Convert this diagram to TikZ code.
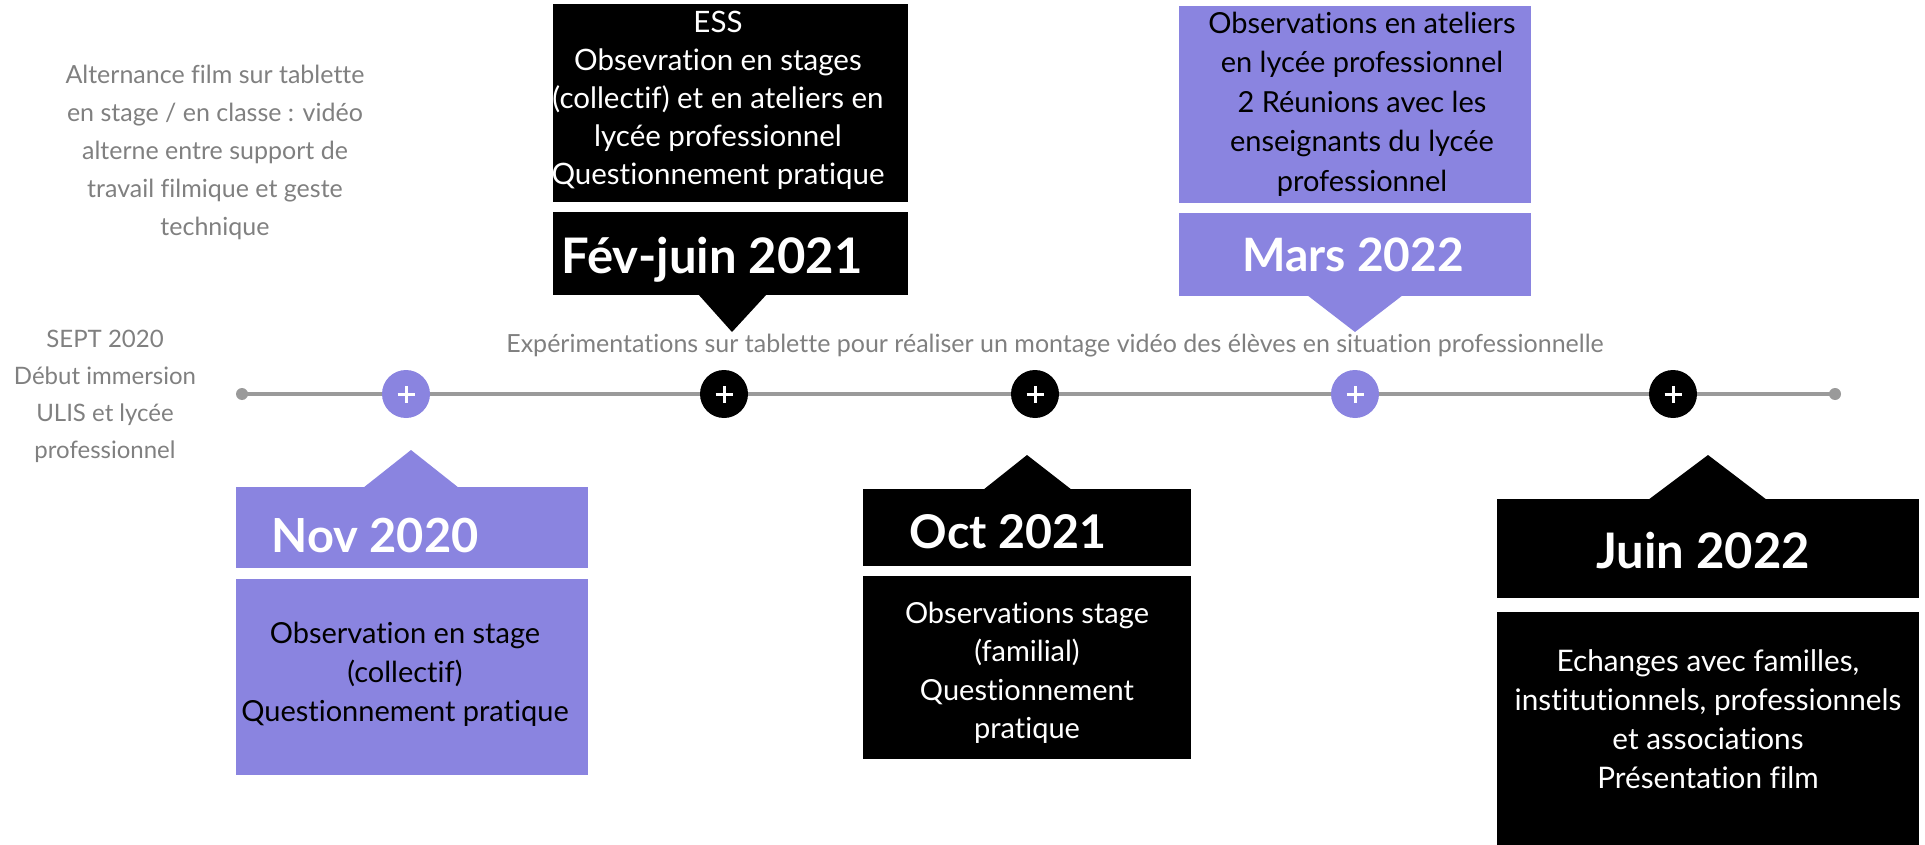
\documentclass[tikz,border=0pt]{standalone}
\usepackage{fontspec}
\setmainfont{Lato}[Ligatures={NoCommon}]
\definecolor{purp}{HTML}{8A84E0}
\definecolor{graytxt}{HTML}{808080}
\definecolor{lineg}{HTML}{9A9A9A}
\begin{document}
\begin{tikzpicture}[x=1pt,y=-1pt,
  boxp/.style={rectangle,inner sep=0pt,fill=purp},
  boxk/.style={rectangle,inner sep=0pt,fill=black},
  datetxt/.style={inner sep=0pt,anchor=base,text=white,font=\fontsize{47}{56}\selectfont\bfseries},
  bodytxt/.style={inner sep=0pt,align=center,font=\fontsize{29}{39}\selectfont},
  graynote/.style={inner sep=0pt,align=center,text=graytxt,font=\fontsize{25}{38}\selectfont},
  dotp/.style={circle,fill=purp,minimum size=48pt,inner sep=0pt},
  dotk/.style={circle,fill=black,minimum size=48pt,inner sep=0pt},
  plusmark/.style={white,line width=3pt},
  endpt/.style={circle,fill=lineg,minimum size=12pt,inner sep=0pt}
]
\useasboundingbox (0,0) rectangle (1925,845);

% timeline
\node[endpt] (tstart) at (242,394) {};
\node[endpt] (tend) at (1835,394) {};
\draw[lineg,line width=4pt] (tstart.center) -- (tend.center);

% circles
\foreach \n/\x/\s in {c1/406/dotp,c2/724/dotk,c3/1035/dotk,c4/1355/dotp,c5/1673/dotk}{
  \node[\s] (\n) at (\x,394) {};
  \draw[plusmark] ([xshift=-8.5pt]\n.center) -- ([xshift=8.5pt]\n.center);
  \draw[plusmark] ([yshift=-8.5pt]\n.center) -- ([yshift=8.5pt]\n.center);
}

% gray notes
\node[graynote] (alt) at (215,152) {Alternance film sur tablette\\en stage / en classe : vidéo\\alterne entre support de\\travail filmique et geste\\technique};
\node[graynote,font=\fontsize{24}{37}\selectfont] (sept) at (105,396) {SEPT 2020\\Début immersion\\ULIS et lycée\\professionnel};
\node[inner sep=0pt,anchor=base,text=graytxt,font=\fontsize{25}{30}\selectfont] (exp) at (1055,352) {Expérimentations sur tablette pour réaliser un montage vidéo des élèves en situation professionnelle};

% Nov 2020
\node[boxp,minimum width=352pt,minimum height=81pt] (novh) at (412,527.5) {};
\fill[purp] (363,488) -- (411,450) -- (459,488) -- cycle;
\node[boxp,minimum width=352pt,minimum height=196pt] (novb) at (412,677) {};
\node[datetxt] (novd) at (375,552) {Nov 2020};
\node[bodytxt] (novt) at (405,674) {Observation en stage\\(collectif)\\Questionnement pratique};

% Fev-juin 2021
\node[boxk,minimum width=355pt,minimum height=198pt] (fevb) at (730.5,103) {};
\node[boxk,minimum width=355pt,minimum height=83pt] (fevh) at (730.5,253.5) {};
\fill[black] (698,294) -- (732,332) -- (767,294) -- cycle;
\node[datetxt,font=\fontsize{49}{60}\selectfont\bfseries] (fevd) at (712,273) {Fév-juin 2021};
\node[bodytxt,text=white,font=\fontsize{29.5}{38}\selectfont] (fevt) at (718,100) {ESS\\Obsevration en stages\\(collectif) et en ateliers en\\lycée professionnel\\Questionnement pratique};

% Mars 2022
\node[boxp,minimum width=352pt,minimum height=197pt] (marb) at (1355,104.5) {};
\node[boxp,minimum width=352pt,minimum height=83pt] (marh) at (1355,254.5) {};
\fill[purp] (1307,295) -- (1355,332) -- (1403,295) -- cycle;
\node[datetxt,font=\fontsize{46}{56}\selectfont\bfseries] (mard) at (1353,272) {Mars 2022};
\node[bodytxt,font=\fontsize{29}{39.5}\selectfont] (mart) at (1362,104) {Observations en ateliers\\en lycée professionnel\\2 Réunions avec les\\enseignants du lycée\\professionnel};

% Oct 2021
\node[boxk,minimum width=328pt,minimum height=77pt] (octh) at (1027,527.5) {};
\fill[black] (983,490) -- (1027,455) -- (1072,490) -- cycle;
\node[boxk,minimum width=328pt,minimum height=183pt] (octb) at (1027,667.5) {};
\node[datetxt,font=\fontsize{46.5}{56}\selectfont\bfseries] (octd) at (1008,548) {Oct 2021};
\node[bodytxt,text=white,font=\fontsize{29}{38.5}\selectfont] (octt) at (1027,673) {Observations stage\\(familial)\\Questionnement\\pratique};

% Juin 2022
\node[boxk,minimum width=422pt,minimum height=99pt] (juinh) at (1708,548.5) {};
\fill[black] (1648,500) -- (1708,455) -- (1767,500) -- cycle;
\node[boxk,minimum width=422pt,minimum height=233pt] (juinb) at (1708,728.5) {};
\node[datetxt,font=\fontsize{49}{58}\selectfont\bfseries] (juind) at (1703,568) {Juin 2022};
\node[bodytxt,text=white,font=\fontsize{29.7}{39}\selectfont] (juint) at (1708,719) {Echanges avec familles,\\institutionnels, professionnels\\et associations\\Présentation film};
\end{tikzpicture}
\end{document}
